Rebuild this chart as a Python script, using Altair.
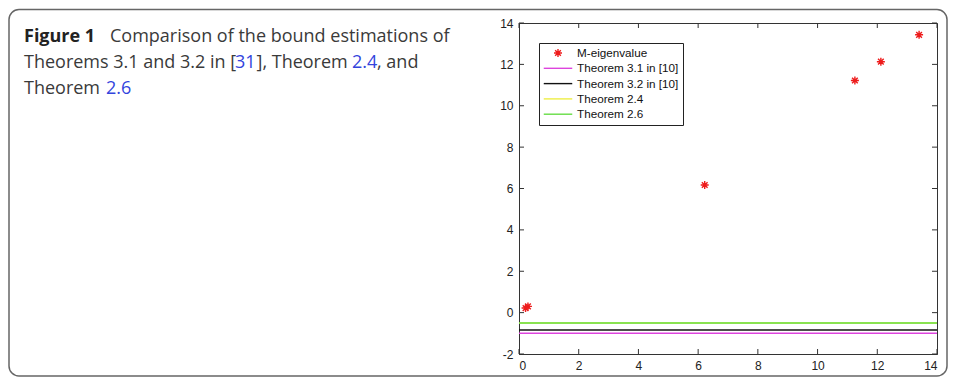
import altair as alt
import pandas as pd

# ---------------- data ----------------
series_names = ["M-eigenvalue", "Theorem 3.1 in [10]", "Theorem 3.2 in [10]",
                "Theorem 2.4", "Theorem 2.6"]
series_colors = ["#ee1c1c", "#dd44dd", "#111111", "#eeee44", "#66dd44"]

eig_x = [0.22, 0.30, 6.22, 11.25, 12.12, 13.40]
eig_y = [0.22, 0.30, 6.17, 11.22, 12.13, 13.43]

bound_names = ["Theorem 3.1 in [10]", "Theorem 3.2 in [10]", "Theorem 2.4", "Theorem 2.6"]
bound_values = [-1.0, -0.84, -0.5, -0.5]
bound_widths = [1.6, 1.6, 3.2, 1.4]

x_ticks = [0, 2, 4, 6, 8, 10, 12, 14]
y_ticks = [-2, 0, 2, 4, 6, 8, 10, 12, 14]

caption_bold = "Figure 1"
caption_l1 = "Comparison of the bound estimations of"
caption_l2a = "Theorems 3.1 and 3.2 in ["
caption_l2b = "31"
caption_l2c = "], Theorem "
caption_l2d = "2.4"
caption_l2e = ", and"
caption_l3a = "Theorem "
caption_l3b = "2.6"

# ---------------- tables ----------------
eig_df = pd.DataFrame({"x": eig_x, "y": eig_y, "series": series_names[0]})
bound_df = pd.DataFrame({"series": bound_names, "value": bound_values})
xt_df = pd.DataFrame({"t": x_ticks})
yt_df = pd.DataFrame({"t": y_ticks})

W, H = 418, 331
xs = alt.Scale(domain=[0, 14], nice=False, zero=False)
ys = alt.Scale(domain=[-2, 14], nice=False, zero=False)
star = "M-0.8,0L0.8,0M0,-0.8L0,0.8M-0.57,-0.57L0.57,0.57M-0.57,0.57L0.57,-0.57"
seg = "M-2.85,0L2.85,0"
color_scale = alt.Scale(domain=series_names, range=series_colors)
shape_scale = alt.Scale(domain=series_names, range=[star, seg, seg, seg, seg])

bounds = alt.Chart(bound_df).mark_rule().encode(
    y=alt.Y("value:Q", scale=ys),
    color=alt.Color("series:N", scale=color_scale, legend=None),
    size=alt.Size("series:N", scale=alt.Scale(domain=bound_names, range=bound_widths),
                  legend=None),
    order=alt.Order("series:N"),
)

plain = "'' + datum.value"
points = alt.Chart(eig_df).mark_point(size=100, filled=False, strokeWidth=1.4, opacity=1).encode(
    x=alt.X("x:Q", scale=xs, axis=alt.Axis(values=x_ticks, title=None, labelExpr=plain)),
    y=alt.Y("y:Q", scale=ys, axis=alt.Axis(values=y_ticks, title=None, labelExpr=plain)),
    color=alt.Color("series:N", scale=color_scale, legend=alt.Legend(
        title=None, orient="none", legendX=20, legendY=20,
        strokeColor="#222", fillColor="white", padding=4,
        labelFont="Liberation Sans", labelFontSize=11.7, labelColor="#111",
        rowPadding=2.3, labelOffset=13, symbolOffset=9,
        symbolStrokeWidth=1.4, symbolSize=100)),
    shape=alt.Shape("series:N", scale=shape_scale, legend=alt.Legend(
        title=None, orient="none", legendX=20, legendY=20)),
)

tick_b = alt.Chart(xt_df).mark_rule(color="#333").encode(
    x=alt.X("t:Q", scale=xs), y=alt.value(H), y2=alt.value(H - 5))
tick_t = alt.Chart(xt_df).mark_rule(color="#333").encode(
    x=alt.X("t:Q", scale=xs), y=alt.value(0), y2=alt.value(5))
tick_l = alt.Chart(yt_df).mark_rule(color="#333").encode(
    y=alt.Y("t:Q", scale=ys), x=alt.value(0), x2=alt.value(5))
tick_r = alt.Chart(yt_df).mark_rule(color="#333").encode(
    y=alt.Y("t:Q", scale=ys), x=alt.value(W), x2=alt.value(W - 5))

one = alt.Data(values=[{"k": 0}])

border = alt.Chart(one).mark_rect(fill="transparent", stroke="#666", strokeWidth=1.5,
                                  cornerRadius=10).encode(
    x=alt.value(-510), x2=alt.value(428), y=alt.value(-13.5), y2=alt.value(353))


def piece(txt, px, py, color="#3a3a3a", bold=False):
    return alt.Chart(one).mark_text(
        text=txt, align="left", baseline="alphabetic", font="Open Sans",
        fontSize=18, fontWeight="bold" if bold else "normal", color=color
    ).encode(x=alt.value(px - 519), y=alt.value(py - 22))


blue = "#3344dd"
caption = [
    piece(caption_bold, 24, 41, color="#222", bold=True),
    piece(caption_l1, 110, 41),
    piece(caption_l2a, 24, 67),
    piece(caption_l2b, 235, 67, color=blue),
    piece(caption_l2c, 256.5, 67),
    piece(caption_l2d, 352, 67, color=blue),
    piece(caption_l2e, 377, 67),
    piece(caption_l3a, 24, 93),
    piece(caption_l3b, 106, 93, color=blue),
]

chart = alt.layer(border, *caption, bounds, tick_b, tick_t, tick_l, tick_r, points).properties(
    width=W, height=H, padding=0
).resolve_legend(color="independent", shape="independent").configure_view(
    stroke="#333"
).configure_axis(
    labelFont="Liberation Sans", labelFontSize=12, labelColor="#222",
    ticks=False, grid=False, domainColor="#333", labelPadding=6,
)

chart.save("out.html", embed_options={"renderer": "svg", "actions": False})
